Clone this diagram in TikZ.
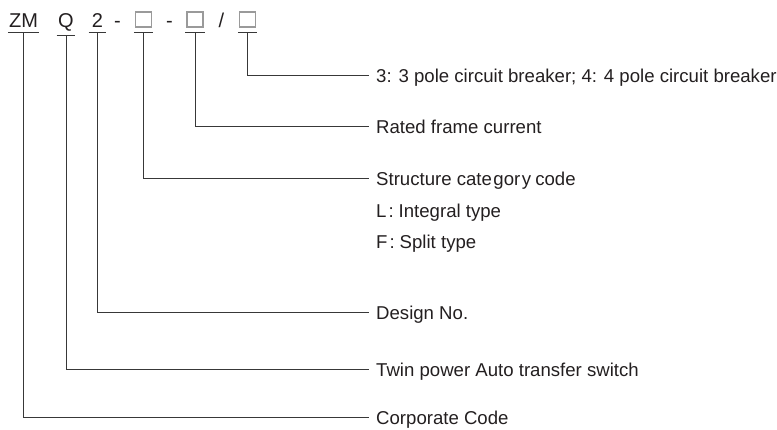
\documentclass[tikz,border=0pt]{standalone}
\usepackage{fontspec}
\setmainfont{Liberation Sans}
\usetikzlibrary{positioning}
\definecolor{inkgray}{HTML}{231F20}
\definecolor{boxgray}{HTML}{9A9A9A}

\begin{document}
\begin{tikzpicture}[x=1pt, y=-1pt,
    codenode/.style={font=\fontsize{20}{22}\selectfont, text=inkgray, inner sep=0pt, anchor=base},
    blanknode/.style={draw=boxgray, line width=1.2pt, minimum width=16pt, minimum height=15pt, inner sep=0pt, anchor=south},
    labelnode/.style={font=\fontsize{18.6}{22}\selectfont, text=inkgray, inner sep=0pt, text height=14pt, text depth=0pt, anchor=west},
    leader/.style={draw=black!78, line width=1pt},
    ]
    \useasboundingbox (0,0) rectangle (777,429);

    % model code
    \node[codenode] (zm) at (23.5,27.5) {ZM};
    \node[codenode] (q) at (66,27.5) {Q};
    \node[codenode] (two) at (97.5,27.5) {2};
    \node[codenode] (dasha) at (117.5,27.5) {-};
    \node[blanknode] (frame) at (143.5,27.5) {};
    \node[codenode] (dashb) at (169.5,27.5) {-};
    \node[blanknode] (current) at (195,27.5) {};
    \node[codenode] (slash) at (221.5,27.5) {/};
    \node[blanknode] (poles) at (247.5,27.5) {};

    % explanations
    \node[labelnode] (polestxt) at (376,75) {3: 3 pole circuit breaker; 4: 4 pole circuit breaker};
    \node[labelnode] (currenttxt) at (376,126) {Rated frame current};
    \node[labelnode] (frametxt) at (376,178) {Structure cate\kern1.5pt gor\kern1.5pt y\kern-1pt\ code};
    \node[labelnode] (integral) at (376,210) {L\kern2pt:\kern5pt Integral type};
    \node[labelnode] (split) at (376,241) {F\kern2pt:\kern5pt Split type};
    \node[labelnode] (design) at (376,312) {Design No.};
    \node[labelnode] (twin) at (376,369) {Twin power Auto transfer switch};
    \node[labelnode] (corp) at (376,417.5) {Corporate Code};

    % underlines
    \draw[leader] ([shift={(-1,4.5)}]zm.south west) -- ([shift={(1,4.5)}]zm.south east);
    \draw[leader] ([shift={(-1.5,4.5)}]q.south west) -- ([shift={(1.5,4.5)}]q.south east);
    \draw[leader] ([shift={(-3,4.5)}]two.south west) -- ([shift={(3,4.5)}]two.south east);
    \draw[leader] ([shift={(-1,4.5)}]frame.south west) -- ([shift={(1,4.5)}]frame.south east);
    \draw[leader] ([shift={(-1,4.5)}]current.south west) -- ([shift={(1,4.5)}]current.south east);
    \draw[leader] ([shift={(-1,4.5)}]poles.south west) -- ([shift={(1,4.5)}]poles.south east);

    % leaders
    \draw[leader] ([yshift=-4.5pt]poles.south) |- ([xshift=-7pt]polestxt.west);
    \draw[leader] ([yshift=-4.5pt]current.south) |- ([xshift=-7pt]currenttxt.west);
    \draw[leader] ([yshift=-4.5pt]frame.south) |- ([xshift=-7pt]frametxt.west);
    \draw[leader] ([yshift=-4.5pt]two.south) |- ([xshift=-7pt]design.west);
    \draw[leader] ([yshift=-4.5pt]q.south) |- ([xshift=-7pt]twin.west);
    \draw[leader] ([yshift=-4.5pt]zm.south) |- ([xshift=-7pt]corp.west);
\end{tikzpicture}
\end{document}
